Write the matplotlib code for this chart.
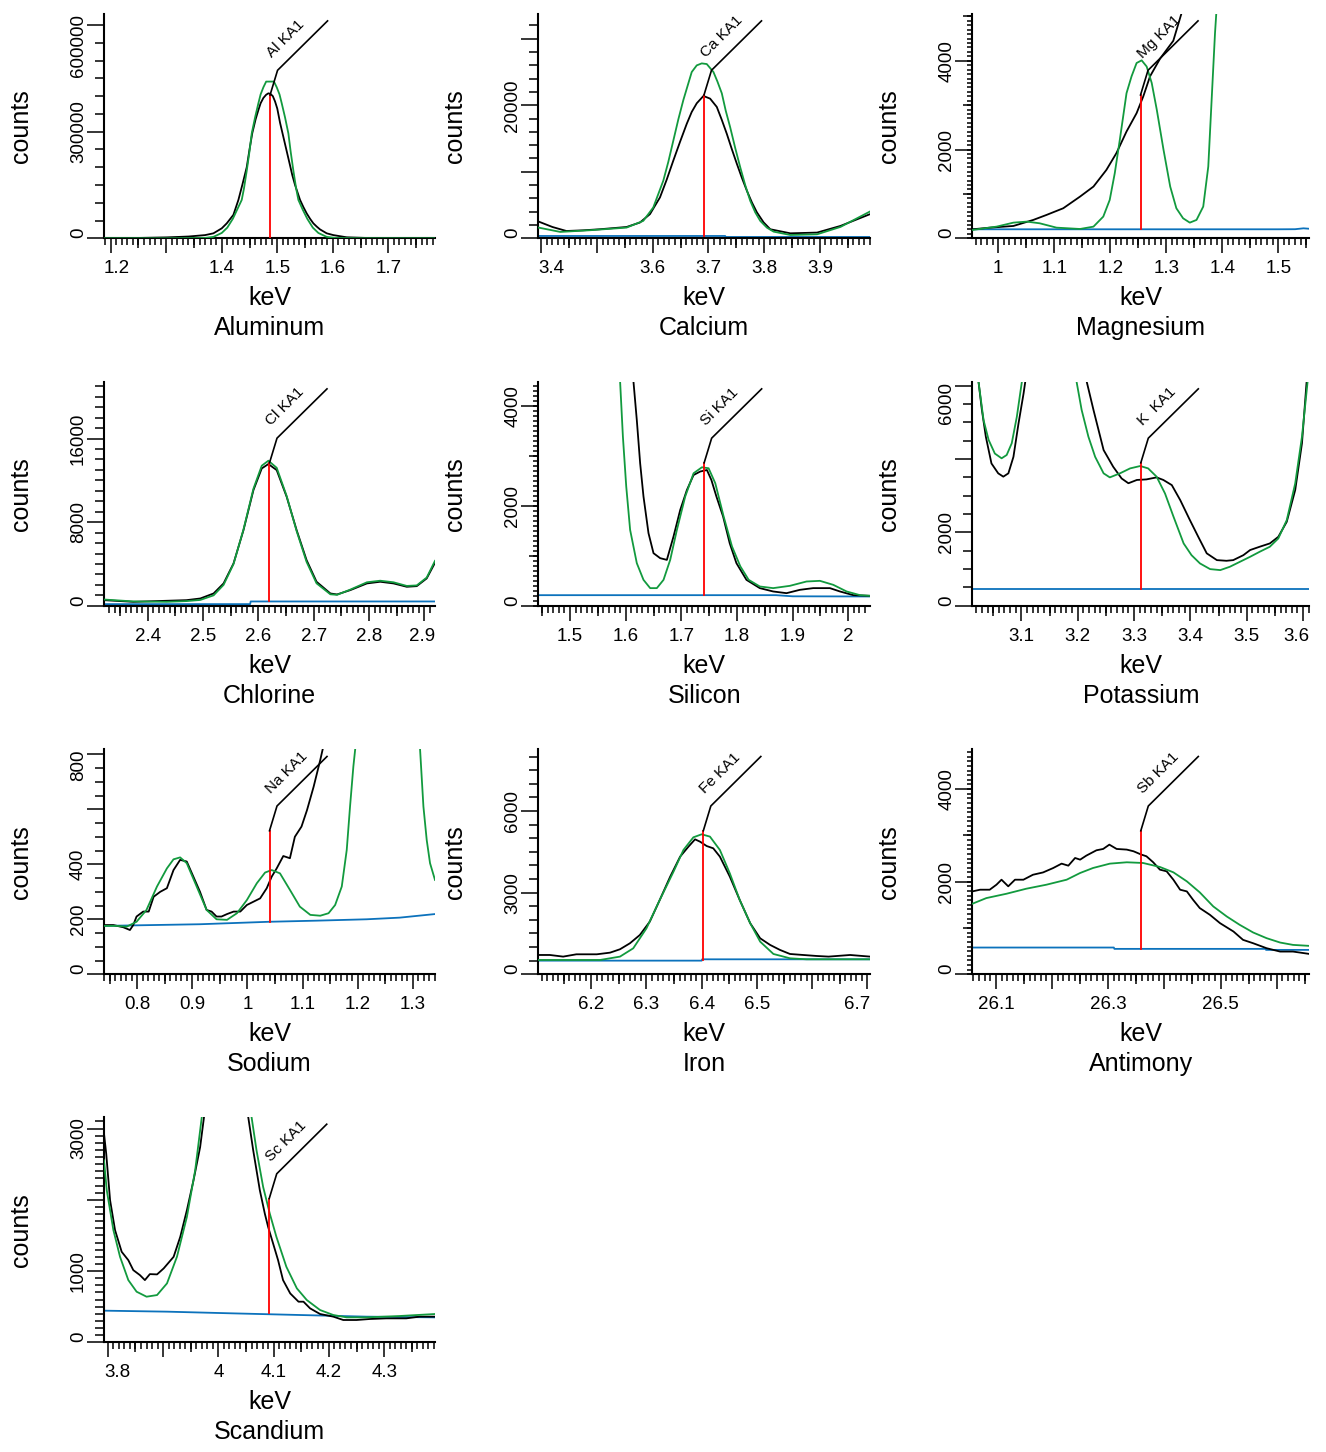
import numpy as np
import matplotlib
matplotlib.use('Agg')
import matplotlib.pyplot as plt
from matplotlib.transforms import offset_copy

plt.rcParams['font.family'] = ['Liberation Sans', 'DejaVu Sans']

BLACK = 'black'
GREEN = '#129a3e'
BLUE = '#0c72bc'
RED = '#ff0000'

# ---------------- data ----------------
# Aluminum
al_black_x = [1.188, 1.25, 1.30, 1.34, 1.37, 1.385, 1.40, 1.409, 1.421, 1.430, 1.437, 1.445, 1.450, 1.455,
              1.461, 1.466, 1.470, 1.475, 1.480, 1.484, 1.488, 1.492, 1.496, 1.500, 1.505, 1.511, 1.517,
              1.523, 1.527, 1.532, 1.541, 1.547, 1.553, 1.559, 1.565, 1.571, 1.577, 1.589, 1.601, 1.625,
              1.66, 1.72, 1.784]
al_black_y = [0, 1000, 2500, 5000, 9000, 14000, 28000, 42000, 66000, 108000, 150000, 200000, 250000, 296000,
              335000, 361000, 380000, 395000, 404000, 408000, 406000, 400000, 385000, 365000, 325000, 285000,
              245000, 205000, 178000, 150000, 108000, 88000, 70000, 55000, 42000, 33000, 25000, 14000, 9000,
              2800, 1000, 500, 0]
al_fit_x = [1.188, 1.30, 1.37, 1.385, 1.40, 1.41, 1.42, 1.436, 1.440, 1.445, 1.450, 1.454, 1.460, 1.466,
            1.470, 1.475, 1.480, 1.494, 1.499, 1.504, 1.508, 1.514, 1.520, 1.524, 1.529, 1.534, 1.538,
            1.546, 1.554, 1.564, 1.574, 1.589, 1.604, 1.65, 1.784]
al_fit_y = [0, 0, 1000, 4000, 15000, 30000, 55000, 108000, 140000, 190000, 245000, 295000, 340000, 380000,
            405000, 425000, 441000, 441000, 425000, 405000, 380000, 340000, 295000, 245000, 190000, 140000,
            108000, 80000, 55000, 30000, 15000, 4000, 1000, 0, 0]
al_bg_x = [1.188, 1.784]
al_bg_y = [0, 0]

# Calcium
ca_black_x = [3.395, 3.420, 3.445, 3.475, 3.505, 3.553, 3.577, 3.595, 3.613, 3.625, 3.637, 3.649, 3.661,
              3.670, 3.679, 3.691, 3.703, 3.715, 3.724, 3.733, 3.742, 3.751, 3.760, 3.769, 3.778, 3.787,
              3.799, 3.811, 3.847, 3.895, 3.937, 3.990]
ca_black_y = [2520, 1700, 1100, 1200, 1360, 1700, 2370, 3630, 6150, 8800, 11700, 14500, 17200,
              19000, 20300, 21400, 21000, 19750, 17800, 15700, 13400, 11200, 9100, 7150, 5400, 3900,
              2400, 1360, 750, 860, 1860, 3630]
ca_fit_x = [3.395, 3.434, 3.487, 3.553, 3.583, 3.601, 3.619, 3.628, 3.637, 3.646, 3.655, 3.670, 3.679,
            3.688, 3.697, 3.709, 3.716, 3.724, 3.731, 3.739, 3.748, 3.757, 3.766, 3.775, 3.784, 3.793,
            3.805, 3.817, 3.847, 3.895, 3.937, 3.990]
ca_fit_y = [1610, 960, 1210, 1610, 2620, 4640, 8670, 11500, 14700, 17900, 20800, 25000, 26000,
            26300, 26200, 25000, 23600, 21800, 19200, 16700, 13600, 10700, 8000, 5640, 3900, 2620,
            1600, 1000, 500, 600, 1710, 4030]
ca_bg_x = [3.395, 3.730, 3.731, 3.990]
ca_bg_y = [350, 350, 200, 200]

# Magnesium
mg_black_x = [0.954, 0.985, 1.027, 1.0625, 1.086, 1.116, 1.146, 1.170, 1.193, 1.211, 1.229, 1.247, 1.259,
              1.271, 1.289, 1.3125, 1.335]
mg_black_y = [203, 240, 278, 414, 526, 677, 940, 1166, 1540, 1920, 2406, 2820, 3200,
              3650, 4050, 4450, 5400]
mg_fit_x = [0.954, 0.997, 1.027, 1.051, 1.074, 1.104, 1.146, 1.170, 1.1875, 1.199, 1.208, 1.217, 1.229,
            1.238, 1.247, 1.256, 1.265, 1.274, 1.283, 1.295, 1.307, 1.318, 1.330, 1.342, 1.354, 1.366,
            1.375, 1.381, 1.387, 1.391]
mg_fit_y = [188, 263, 353, 376, 338, 240, 210, 263, 489, 865, 1466, 2218, 3270,
            3650, 3950, 4010, 3870, 3500, 2900, 2000, 1166, 677, 451, 353, 414, 715,
            1617, 3120, 4620, 5400]
mg_bg_x = [0.954, 1.50, 1.53, 1.545, 1.5554]
mg_bg_y = [203, 203, 205, 225, 215]

# Chlorine
cl_x = [2.321, 2.374, 2.434, 2.470, 2.495, 2.519, 2.537, 2.555, 2.573, 2.591, 2.606, 2.618, 2.633, 2.651,
        2.669, 2.687, 2.705, 2.730, 2.742, 2.766, 2.796, 2.820, 2.844, 2.868, 2.886, 2.904, 2.919]
cl_black_y = [540, 380, 480, 540, 700, 1180, 2140, 4050, 7240, 11070, 13140, 13560, 12980, 10430,
              7240, 4370, 2300, 1180, 1085, 1500, 2140, 2300, 2140, 1820, 1880, 2620, 4115]
cl_fit_y = [600, 420, 380, 450, 560, 1000, 2000, 4000, 7300, 11200, 13400, 13880, 13200, 10500,
            7150, 4200, 2150, 1100, 1050, 1550, 2250, 2400, 2250, 1900, 1950, 2700, 4300]
cl_bg_x = [2.321, 2.585, 2.586, 2.919]
cl_bg_y = [160, 160, 415, 415]

# Silicon
si_black_x = [1.610, 1.614, 1.620, 1.626, 1.632, 1.641, 1.650, 1.662, 1.674, 1.686, 1.698, 1.710, 1.722,
              1.734, 1.746, 1.754, 1.763, 1.775, 1.787, 1.799, 1.817, 1.841, 1.865, 1.889, 1.913, 1.937,
              1.967, 1.985, 2.009, 2.039]
si_black_y = [5000, 4490, 3720, 2855, 2190, 1455, 1054, 954, 920, 1390, 1920, 2320, 2620,
              2690, 2720, 2520, 2190, 1790, 1250, 854, 520, 354, 287, 253, 320, 354,
              354, 287, 213, 200]
si_fit_x = [1.585, 1.590, 1.595, 1.601, 1.608, 1.620, 1.632, 1.644, 1.656, 1.668, 1.680, 1.692, 1.707,
            1.722, 1.737, 1.749, 1.761, 1.776, 1.791, 1.806, 1.821, 1.841, 1.865, 1.895, 1.925, 1.949,
            1.973, 1.997, 2.021, 2.039]
si_fit_y = [5200, 4490, 3390, 2390, 1520, 854, 520, 354, 354, 520, 920, 1520, 2190,
            2655, 2775, 2755, 2455, 1790, 1190, 790, 520, 387, 354, 400, 487, 500,
            420, 287, 213, 200]
si_bg_x = [1.443, 1.87, 1.90, 2.039]
si_bg_y = [213, 213, 190, 187]

# Potassium
k_black_x = [3.020, 3.024, 3.030, 3.037, 3.047, 3.059, 3.068, 3.077, 3.086, 3.095, 3.104, 3.107, 3.16,
             3.216, 3.228, 3.246, 3.263, 3.278, 3.290, 3.305, 3.322, 3.340, 3.352, 3.367, 3.382, 3.399,
             3.414, 3.429, 3.447, 3.464, 3.476, 3.494, 3.506, 3.523, 3.541, 3.556, 3.571, 3.586, 3.598,
             3.606, 3.611]
k_black_y = [6600, 6110, 5340, 4610, 3880, 3610, 3520, 3610, 4060, 4970, 5790, 6110, 20000,
             6110, 5340, 4245, 3790, 3470, 3340, 3430, 3445, 3500, 3430, 3290, 2880, 2340,
             1880, 1430, 1245, 1227, 1245, 1380, 1520, 1610, 1700, 1880, 2290, 3155, 4430,
             6060, 7000]
k_fit_x = [3.020, 3.024, 3.033, 3.042, 3.053, 3.065, 3.074, 3.083, 3.092, 3.101, 3.15, 3.198, 3.207,
           3.219, 3.231, 3.246, 3.257, 3.275, 3.293, 3.311, 3.325, 3.340, 3.355, 3.370, 3.388, 3.402,
           3.417, 3.435, 3.453, 3.470, 3.488, 3.506, 3.523, 3.541, 3.556, 3.571, 3.586, 3.598, 3.608,
           3.611]
k_fit_y = [6800, 6110, 5060, 4520, 4150, 4020, 4110, 4430, 5150, 6110, 20000, 6110, 5340,
           4610, 4060, 3610, 3500, 3610, 3745, 3810, 3745, 3520, 3060, 2430, 1700, 1380,
           1155, 1000, 973, 1064, 1200, 1336, 1473, 1610, 1836, 2336, 3336, 4610, 6110,
           6700]
k_bg_x = [3.013, 3.611]
k_bg_y = [455, 455]

# Sodium
na_black_x = [0.740, 0.757, 0.775, 0.787, 0.793, 0.799, 0.811, 0.821, 0.830, 0.842, 0.854, 0.866, 0.878,
              0.890, 0.902, 0.914, 0.926, 0.935, 0.944, 0.953, 0.963, 0.975, 0.987, 0.999, 1.011, 1.023,
              1.035, 1.044, 1.053, 1.065, 1.077, 1.086, 1.098, 1.108, 1.120, 1.132, 1.140]
na_black_y = [179, 179, 171, 161, 179, 210, 228, 228, 282, 300, 313, 379, 416,
              410, 355, 300, 234, 228, 210, 210, 219, 228, 228, 252, 264, 276,
              313, 355, 385, 430, 422, 500, 537, 597, 682, 779, 850]
na_fit_x = [0.740, 0.763, 0.781, 0.799, 0.817, 0.836, 0.854, 0.866, 0.878, 0.890, 0.908, 0.926, 0.944,
            0.963, 0.981, 0.999, 1.017, 1.032, 1.044, 1.059, 1.077, 1.095, 1.114, 1.132, 1.147, 1.159,
            1.171, 1.180, 1.186, 1.192, 1.197, 1.26, 1.312, 1.319, 1.325, 1.331, 1.340]
na_fit_y = [176, 176, 173, 191, 234, 319, 385, 418, 425, 404, 319, 234, 200,
            198, 222, 270, 331, 370, 379, 367, 307, 246, 216, 213, 222, 252,
            319, 452, 610, 755, 850, 3000, 850, 610, 488, 404, 343]
na_bg_x = [0.740, 0.914, 1.040, 1.125, 1.216, 1.276, 1.340]
na_bg_y = [176, 182, 191, 195, 200, 206, 219]

# Iron
fe_black_x = [6.104, 6.125, 6.149, 6.173, 6.210, 6.234, 6.252, 6.270, 6.288, 6.306, 6.324, 6.343, 6.361,
              6.376, 6.388, 6.397, 6.409, 6.421, 6.433, 6.451, 6.469, 6.488, 6.506, 6.524, 6.542, 6.560,
              6.584, 6.608, 6.630, 6.669, 6.705]
fe_black_y = [710, 710, 650, 735, 735, 796, 920, 1140, 1445, 1935, 2730, 3590, 4325,
              4690, 4960, 4875, 4715, 4630, 4325, 3590, 2730, 1875, 1323, 1080, 895, 747,
              710, 674, 650, 710, 650]
fe_fit_x = [6.104, 6.216, 6.252, 6.276, 6.300, 6.324, 6.349, 6.367, 6.385, 6.400, 6.415, 6.433, 6.451,
            6.469, 6.488, 6.506, 6.530, 6.560, 6.590, 6.705]
fe_fit_y = [527, 527, 650, 955, 1690, 2730, 3773, 4570, 5035, 5145, 5060, 4570, 3710,
            2730, 1875, 1200, 747, 588, 551, 551]
fe_bg_x = [6.104, 6.400, 6.401, 6.705]
fe_bg_y = [502, 502, 551, 551]

# Antimony
sb_black_x = [26.058, 26.072, 26.089, 26.101, 26.110, 26.122, 26.134, 26.149, 26.166, 26.184, 26.202,
              26.217, 26.229, 26.241, 26.250, 26.261, 26.279, 26.291, 26.302, 26.315, 26.333, 26.345,
              26.359, 26.368, 26.380, 26.392, 26.404, 26.416, 26.428, 26.440, 26.451, 26.463, 26.481,
              26.499, 26.523, 26.540, 26.558, 26.582, 26.606, 26.629, 26.658]
sb_black_y = [1790, 1827, 1827, 1935, 2043, 1900, 2043, 2043, 2150, 2200, 2295,
              2390, 2346, 2512, 2476, 2563, 2678, 2707, 2800, 2707, 2693, 2657,
              2585, 2549, 2420, 2260, 2224, 2043, 1827, 1790, 1610, 1430, 1285,
              1105, 924, 744, 671, 563, 491, 491, 440]
sb_fit_x = [26.058, 26.083, 26.119, 26.154, 26.190, 26.226, 26.250, 26.273, 26.303, 26.333, 26.362,
            26.392, 26.416, 26.440, 26.463, 26.487, 26.511, 26.534, 26.558, 26.582, 26.606, 26.629,
            26.658]
sb_fit_y = [1523, 1646, 1740, 1848, 1935, 2043, 2188, 2296, 2390, 2419, 2404,
            2318, 2202, 2007, 1769, 1466, 1249, 1069, 903, 780, 686, 635, 614]
sb_bg_x = [26.058, 26.310, 26.311, 26.580, 26.581, 26.658]
sb_bg_y = [578, 578, 549, 549, 527, 527]

# Scandium
sc_black_x = [3.793, 3.797, 3.804, 3.813, 3.825, 3.837, 3.846, 3.858, 3.867, 3.876, 3.889, 3.901, 3.919,
              3.931, 3.943, 3.955, 3.967, 3.974, 4.01, 4.054, 4.063, 4.075, 4.084, 4.090, 4.099, 4.108,
              4.117, 4.130, 4.145, 4.154, 4.166, 4.184, 4.208, 4.226, 4.250, 4.274, 4.304, 4.340, 4.364,
              4.392]
sc_black_y = [2928, 2648, 1994, 1574, 1270, 1153, 1013, 943, 873, 957, 953, 1037, 1200,
              1480, 1854, 2274, 2741, 3163, 8000, 3163, 2695, 2134, 1807, 1620, 1387, 1153,
              873, 686, 570, 570, 476, 397, 360, 313, 313, 327, 336, 336, 360,
              360]
sc_fit_x = [3.793, 3.798, 3.810, 3.822, 3.837, 3.852, 3.870, 3.889, 3.907, 3.925, 3.943, 3.958, 3.970,
            4.01, 4.060, 4.069, 4.081, 4.093, 4.105, 4.123, 4.142, 4.160, 4.184, 4.208, 4.232, 4.268,
            4.328, 4.392]
sc_fit_y = [2554, 2134, 1574, 1200, 873, 710, 640, 663, 827, 1200, 1760, 2414, 3163,
            8000, 3163, 2695, 2181, 1807, 1480, 1060, 757, 593, 453, 383, 350, 350,
            369, 397]
sc_bg_x = [3.793, 3.907, 4.027, 4.148, 4.268, 4.392]
sc_bg_y = [444, 430, 406, 383, 360, 350]

names = ['Aluminum', 'Calcium', 'Magnesium', 'Chlorine', 'Silicon', 'Potassium',
         'Sodium', 'Iron', 'Antimony', 'Scandium']
line_labels = ['Al KA1', 'Ca KA1', 'Mg KA1', 'Cl KA1', 'Si KA1', 'K  KA1',
               'Na KA1', 'Fe KA1', 'Sb KA1', 'Sc KA1']
line_energy = [1.487, 3.692, 1.254, 2.620, 1.741, 3.312, 1.040, 6.403, 26.358, 4.092]
line_base = [0, 350, 203, 415, 213, 455, 191, 520, 549, 406]

xlims = [(1.188, 1.784), (3.3946, 3.990), (0.9536, 1.5554), (2.321, 2.919), (1.443, 2.039),
         (3.013, 3.611), (0.740, 1.340), (6.104, 6.705), (26.058, 26.658), (3.793, 4.392)]
ymax = [632000, 33770, 5061, 21437, 4489, 6108, 818, 8269, 4859, 3162]

x_major = [[1.2, 1.3, 1.4, 1.5, 1.6, 1.7], [3.4, 3.5, 3.6, 3.7, 3.8, 3.9], [1.0, 1.1, 1.2, 1.3, 1.4, 1.5],
           [2.4, 2.5, 2.6, 2.7, 2.8, 2.9], [1.5, 1.6, 1.7, 1.8, 1.9, 2.0], [3.1, 3.2, 3.3, 3.4, 3.5, 3.6],
           [0.8, 0.9, 1.0, 1.1, 1.2, 1.3], [6.2, 6.3, 6.4, 6.5, 6.6, 6.7],
           [26.1, 26.2, 26.3, 26.4, 26.5, 26.6], [3.8, 3.9, 4.0, 4.1, 4.2, 4.3]]
x_labels = [['1.2', '', '1.4', '1.5', '1.6', '1.7'], ['3.4', '', '3.6', '3.7', '3.8', '3.9'],
            ['1', '1.1', '1.2', '1.3', '1.4', '1.5'], ['2.4', '2.5', '2.6', '2.7', '2.8', '2.9'],
            ['1.5', '1.6', '1.7', '1.8', '1.9', '2'], ['3.1', '3.2', '3.3', '3.4', '3.5', '3.6'],
            ['0.8', '0.9', '1', '1.1', '1.2', '1.3'], ['6.2', '6.3', '6.4', '6.5', '', '6.7'],
            ['26.1', '', '26.3', '', '26.5', ''], ['3.8', '', '4', '4.1', '4.2', '4.3']]
y_major = [[0, 300000, 600000], [0, 10000, 20000, 30000], [0, 2000, 4000], [0, 8000, 16000],
           [0, 2000, 4000], [0, 2000, 4000, 6000], [0, 200, 400, 600, 800], [0, 3000, 6000],
           [0, 2000, 4000], [0, 1000, 2000, 3000]]
y_labels = [['0', '300000', '600000'], ['0', '', '20000', ''], ['0', '2000', '4000'], ['0', '8000', '16000'],
            ['0', '2000', '4000'], ['0', '2000', '', '6000'], ['0', '200', '400', '', '800'],
            ['0', '3000', '6000'], ['0', '2000', '4000'], ['0', '1000', '', '3000']]
y_mid = [50000, 2000, 1000, 1000, 1000, 500, 50, 500, 1000, 100]
y_small = [None, None, 100, None, 100, None, None, None, 100, None]

black_x = [al_black_x, ca_black_x, mg_black_x, cl_x, si_black_x, k_black_x, na_black_x, fe_black_x,
           sb_black_x, sc_black_x]
black_y = [al_black_y, ca_black_y, mg_black_y, cl_black_y, si_black_y, k_black_y, na_black_y, fe_black_y,
           sb_black_y, sc_black_y]
fit_x = [al_fit_x, ca_fit_x, mg_fit_x, cl_x, si_fit_x, k_fit_x, na_fit_x, fe_fit_x, sb_fit_x, sc_fit_x]
fit_y = [al_fit_y, ca_fit_y, mg_fit_y, cl_fit_y, si_fit_y, k_fit_y, na_fit_y, fe_fit_y, sb_fit_y, sc_fit_y]
bg_x = [al_bg_x, ca_bg_x, mg_bg_x, cl_bg_x, si_bg_x, k_bg_x, na_bg_x, fe_bg_x, sb_bg_x, sc_bg_x]
bg_y = [al_bg_y, ca_bg_y, mg_bg_y, cl_bg_y, si_bg_y, k_bg_y, na_bg_y, fe_bg_y, sb_bg_y, sc_bg_y]

# ---------------- layout (pixels) ----------------
W, H = 1326, 1452
col_left = [104, 538.3, 972.3]
col_right = [435, 870, 1309.3]
row_bottom = [238.3, 605.8, 974.3, 1342.3]
row_top = [13.7, 381.7, 749.3, 1117]

fig = plt.figure(figsize=(W / 100, H / 100), dpi=100)

tick_texts = []
for i, name in enumerate(names):
    r, c = divmod(i, 3)
    L, R, B, T = col_left[c], col_right[c], row_bottom[r], row_top[r]
    ax = fig.add_axes([L / W, 1 - B / H, (R - L) / W, (B - T) / H])
    x0, x1 = xlims[i]
    y0, y1 = 0, ymax[i]

    ax.plot(bg_x[i], bg_y[i], color=BLUE, lw=1.3, zorder=2)
    ax.plot(black_x[i], black_y[i], color=BLACK, lw=1.3, zorder=3)
    ax.plot(fit_x[i], fit_y[i], color=GREEN, lw=1.3, zorder=4)

    # line marker and its label
    top = y0 + 0.638 * (y1 - y0)
    ax.plot([line_energy[i], line_energy[i]], [line_base[i], top], color=RED, lw=1.3, zorder=5)
    px = (x1 - x0) / (R - L)
    kx = line_energy[i] + 7.5 * px
    ex = kx + 50 * px
    tr = ax.get_xaxis_transform()
    ax.plot([line_energy[i], kx, ex], [0.638, 0.748, 0.968], color=BLACK, lw=1.2,
            transform=tr, zorder=6, clip_on=False)
    ax.annotate(line_labels[i], xy=(kx, 0.748), xycoords=tr, xytext=(-4, 8.5),
                textcoords='offset points', rotation=45, rotation_mode='anchor',
                ha='left', va='baseline', fontsize=11)

    ax.set_xlim(x0, x1)
    ax.set_ylim(y0, y1)
    for s in ['top', 'right']:
        ax.spines[s].set_visible(False)
    for s in ['left', 'bottom']:
        ax.spines[s].set_linewidth(1.5)

    # three levels of ticks on x
    ax.set_xticks(x_major[i])
    small = np.round(np.arange(np.ceil(x0 * 100) / 100, x1 + 1e-9, 0.01), 3)
    ax.set_xticks(small, minor=True)
    mid = np.round(np.arange(np.floor(x0 * 10) / 10 + 0.05, x1, 0.1), 3)
    mid = mid[mid >= x0]
    secx = ax.secondary_xaxis('bottom')
    secx.set_xticks(mid)
    secx.tick_params(axis='x', length=7.2, width=1.1, labelbottom=False)
    secx.spines['bottom'].set_visible(False)
    ax.tick_params(axis='x', which='major', length=10.8, width=1.1, labelbottom=False)
    ax.tick_params(axis='x', which='minor', length=5.0, width=1.1)

    # y ticks
    ax.set_yticks(y_major[i])
    ax.set_yticks(np.arange(0, y1, y_mid[i]), minor=True)
    ax.tick_params(axis='y', which='major', length=12.2, width=1.1, labelleft=False)
    ax.tick_params(axis='y', which='minor', length=6.5, width=1.1)
    if y_small[i]:
        secy = ax.secondary_yaxis('left')
        secy.set_yticks(np.arange(0, y1, y_small[i]))
        secy.tick_params(axis='y', length=3.6, width=1.1, labelleft=False)
        secy.spines['left'].set_visible(False)

    # tick labels drawn as text so they can be kept inside the axis span
    xt = offset_copy(ax.get_xaxis_transform(), fig=fig, x=0, y=-35, units='dots')
    for v, s in zip(x_major[i], x_labels[i]):
        if s:
            t = ax.text(v, 0, s, transform=xt, ha='center', va='baseline', fontsize=13.5)
            tick_texts.append((ax, 'x', t))
    yt = offset_copy(ax.get_yaxis_transform(), fig=fig, x=-21, y=0, units='dots')
    for v, s in zip(y_major[i], y_labels[i]):
        if s:
            t = ax.text(0, v, s, transform=yt, rotation=90, rotation_mode='anchor',
                        ha='center', va='baseline', fontsize=13.5)
            tick_texts.append((ax, 'y', t))

    ax.text(0, 0.5, 'counts', transform=offset_copy(ax.transAxes, fig=fig, x=-83, y=0, units='dots'),
            rotation=90, ha='center', va='center', fontsize=18)
    ax.text(0.5, 0, 'keV', transform=offset_copy(ax.transAxes, fig=fig, x=0, y=-67, units='dots'),
            ha='center', va='baseline', fontsize=18)
    ax.text(0.5, 0, name, transform=offset_copy(ax.transAxes, fig=fig, x=0, y=-97, units='dots'),
            ha='center', va='baseline', fontsize=18)

# keep tick labels inside the axis span
fig.canvas.draw()
for ax, kind, t in tick_texts:
    bb = t.get_window_extent()
    ab = ax.get_window_extent()
    if kind == 'x':
        if bb.x0 < ab.x0:
            t.set_x(ax.get_xlim()[0]); t.set_ha('left')
        elif bb.x1 > ab.x1:
            t.set_x(ax.get_xlim()[1]); t.set_ha('right')
    else:
        if bb.y0 < ab.y0:
            t.set_y(ax.get_ylim()[0]); t.set_ha('left')
        elif bb.y1 > ab.y1:
            t.set_y(ax.get_ylim()[1]); t.set_ha('right')

fig.savefig('out.png', dpi=100)
